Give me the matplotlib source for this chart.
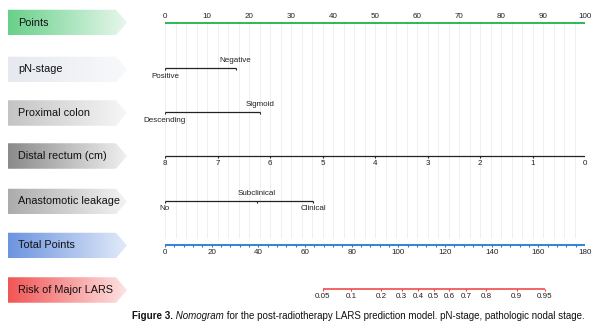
import numpy as np
import matplotlib
matplotlib.use("Agg")
import matplotlib.pyplot as plt
from matplotlib.patches import Polygon

plt.rcParams['font.family'] = ['Liberation Sans', 'DejaVu Sans']

# rows of the nomogram
row_names = ["Points", "pN-stage", "Proximal colon", "Distal rectum (cm)",
             "Anastomotic leakage", "Total Points", "Risk of Major LARS"]

# points scale
points_ticks = [0, 10, 20, 30, 40, 50, 60, 70, 80, 90, 100]

# categorical predictors: (label, points)
pn_labels = ["Positive", "Negative"]
pn_points = [0, 16.8]
prox_labels = ["Descending", "Sigmoid"]
prox_points = [0, 22.7]
leak_labels = ["No", "Subclinical", "Clinical"]
leak_points = [0, 21.8, 35.3]

# continuous predictor: distal rectum (cm) -> points
distal_cm = [8, 7, 6, 5, 4, 3, 2, 1, 0]
distal_pts_per_cm = 12.5

# total points scale
total_ticks = [0, 20, 40, 60, 80, 100, 120, 140, 160, 180]
total_max = 180

# risk scale (logistic model on total points)
risk_ticks = [0.05, 0.1, 0.2, 0.3, 0.4, 0.5, 0.6, 0.7, 0.8, 0.9, 0.95]
risk_center = 115.2
risk_slope = 0.0618

# box colours (left, right of gradient)
box_colors = [("#68d08a", "#e8f7ec"), ("#e6e9ef", "#f8f9fb"), ("#c4c4c4", "#f7f7f7"),
              ("#8a8a8a", "#f0f0f0"), ("#acacac", "#f3f3f3"), ("#6c94df", "#e2eaf9"),
              ("#f25555", "#fde3e3")]

W, H = 600, 327
fig = plt.figure(figsize=(W / 100, H / 100), dpi=100)

# background axes in pixel units for the label boxes and caption
bg = fig.add_axes([0, 0, 1, 1])
bg.set_xlim(0, W)
bg.set_ylim(H, 0)
bg.axis("off")

# main axes: x in points (0..100) between px 165 and 585, y in pixels
x0, x1 = 165, 585
ax = fig.add_axes([x0 / W, 0, (x1 - x0) / W, 1])
ax.set_xlim(0, 100)
ax.set_ylim(H, 0)
ax.axis("off")

row_y = [23.3, 68.3, 112.3, 155.8, 200.7, 245, 289]
box_y = [22.5, 69.5, 113, 156, 201.5, 245.5, 290]

# label boxes with gradient
for name, yc, (c1, c2) in zip(row_names, box_y, box_colors):
    bx0, bx1, tip, h = 8, 116, 127, 25.5
    poly = Polygon([(bx0, yc - h / 2), (bx1, yc - h / 2), (tip, yc),
                    (bx1, yc + h / 2), (bx0, yc + h / 2)], closed=True,
                   facecolor="none", edgecolor="none")
    bg.add_patch(poly)
    cmap = matplotlib.colors.LinearSegmentedColormap.from_list("g", [c1, c2])
    grad = np.linspace(0, 1, 256).reshape(1, -1)
    im = bg.imshow(grad, cmap=cmap, extent=(bx0, tip, yc + h / 2, yc - h / 2),
                   aspect="auto", interpolation="bicubic")
    im.set_clip_path(poly)
    bg.text(18, yc, name, fontsize=7.8, va="center", ha="left", color="#111111")

bg.set_xlim(0, W)
bg.set_ylim(H, 0)

# vertical grid
grid_x = np.arange(0, 100.01, 2.5)
ax.vlines(grid_x, row_y[0], 238, color="#ececec", lw=0.6, zorder=0)

fs = 5.8
lc = "#222222"

# Points
green = "#1db34a"
ax.plot([0, 100], [row_y[0]] * 2, color=green, lw=1.3, solid_capstyle="butt")
ax.vlines(np.arange(0, 100.01, 2.5), row_y[0] - 1.5, row_y[0], color=green, lw=0.8)
for v in points_ticks:
    ax.text(v, row_y[0] - 6.5, str(v), fontsize=fs, ha="center", va="center", color=lc)


def cat_row(y, pts, labels, above):
    ax.plot([min(pts), max(pts)], [y, y], color="#222222", lw=0.9, solid_capstyle="butt")
    ax.vlines(pts, y, y + 2, color="#222222", lw=0.8)
    for p, lab, up in zip(pts, labels, above):
        ax.text(p, y - 7.5 if up else y + 8, lab, fontsize=fs, ha="center",
                va="center", color=lc)


cat_row(row_y[1], pn_points, pn_labels, [False, True])
cat_row(row_y[2], prox_points, prox_labels, [False, True])
cat_row(row_y[4], leak_points, leak_labels, [False, True, False])

# Distal rectum
d_pts = [(8 - c) * distal_pts_per_cm for c in distal_cm]
ax.plot([0, 100], [row_y[3]] * 2, color="#222222", lw=0.9, solid_capstyle="butt")
ax.vlines(d_pts, row_y[3], row_y[3] + 2, color="#222222", lw=0.8)
for p, c in zip(d_pts, distal_cm):
    ax.text(p, row_y[3] + 8, str(c), fontsize=fs, ha="center", va="center", color=lc)

# Total points
blue = "#2378d0"
scale = 100 / total_max
ax.plot([0, 100], [row_y[5]] * 2, color=blue, lw=1.3, solid_capstyle="butt")
ax.vlines(np.arange(0, total_max + 0.1, 4) * scale, row_y[5], row_y[5] + 1.5, color=blue, lw=0.8)
for v in total_ticks:
    ax.text(v * scale, row_y[5] + 7, str(v), fontsize=fs, ha="center", va="center", color=lc)

# Risk
red = "#f03a3a"
r = np.array(risk_ticks)
r_tp = risk_center + np.log(r / (1 - r)) / risk_slope
r_x = r_tp * scale
ax.plot([r_x[0], r_x[-1]], [row_y[6]] * 2, color=red, lw=1.1, solid_capstyle="butt")
ax.vlines(r_x, row_y[6], row_y[6] + 2, color=red, lw=0.8)
for xv, v in zip(r_x, risk_ticks):
    ax.text(xv, row_y[6] + 7.5, f"{v:g}", fontsize=fs, ha="center", va="center", color=lc)

# caption in pieces
pieces = [("Figure 3.", "bold", "normal"), (" Nomogram", "normal", "italic"),
          (" for the post-radiotherapy LARS prediction model. pN-stage, pathologic nodal stage.",
           "normal", "normal")]
fig.canvas.draw()
renderer = fig.canvas.get_renderer()
xpos = 132
for txt, wt, st in pieces:
    t = bg.text(xpos, 316, txt, fontsize=7, fontweight=wt, fontstyle=st,
                ha="left", va="center", color="#111111")
    bb = t.get_window_extent(renderer)
    xpos += bb.width

fig.savefig("out.png", dpi=100)
